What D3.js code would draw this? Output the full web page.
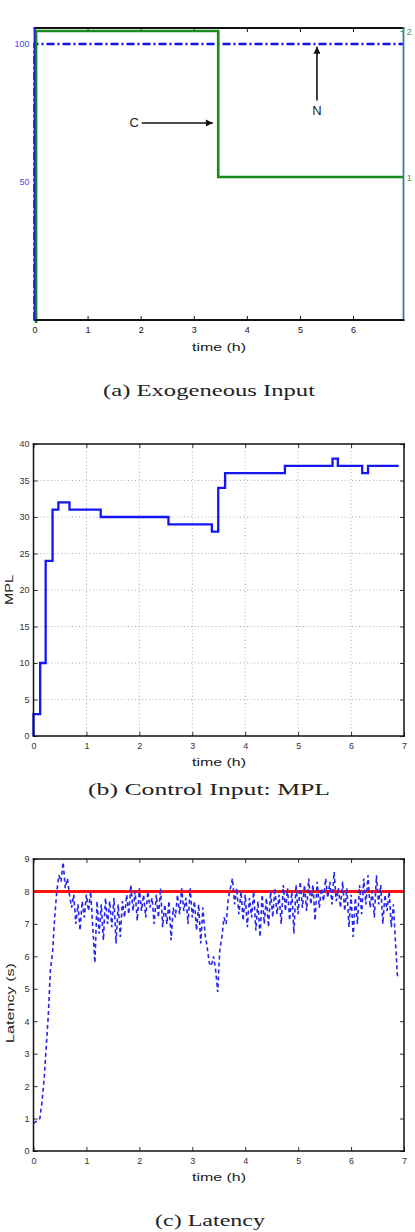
<!DOCTYPE html>
<html>
<head>
<meta charset="utf-8">
<script src="https://cdn.jsdelivr.net/npm/d3@7"></script>
<style>
  body { margin: 0; background: #fff; }
  text { font-family: "Liberation Sans", Arial, sans-serif; }
  .cap { font-family: "Liberation Serif", "Times New Roman", serif; }
</style>
</head>
<body>
<svg id="fig" width="415" height="1232"></svg>
<script>
// (a) exogeneous input: concurrency C (right axis) and clients N (left axis)
const conTimes = [0.03, 0.03, 3.46, 3.46, 6.95];
const conValues = [0, 2, 2, 1, 1];
const nTimes = [0, 0, 6.95];
const nValues = [0, 100, 100];
const leftTicksA = [50, 100];
const rightTicksA = [1, 2];
const xTicksA = [0, 1, 2, 3, 4, 5, 6];
const annoLabels = ["C", "N"];
const annoText = [[1.88, 71.4], [5.32, 76]];
const annoFrom = [[2.02, 71.4], [5.32, 79.5]];
const annoTo = [[3.36, 71.4], [5.32, 99]];

// (b) MPL, step series
const mplTimes = [0, 0, 0.126, 0.23, 0.36, 0.47, 0.68, 1.27, 2.55, 3.37, 3.49, 3.62, 4.75, 5.65, 5.75, 6.21, 6.32, 6.90];
const mplValues = [0, 3, 10, 24, 31, 32, 31, 30, 29, 28, 34, 36, 37, 38, 37, 36, 37, 37];
const xTicks = [0, 1, 2, 3, 4, 5, 6, 7];
const mplTicks = [0, 5, 10, 15, 20, 25, 30, 35, 40];

// (c) latency, sampled every 0.04 h
const latencyStep = 0.04;
const latency = [
  0.85, 0.9, 0.95, 1.0, 1.5, 2.2, 3.2, 4.2, 5.6, 6.1, 7.2, 8.0, 8.5, 8.3, 8.9, 8.1, 8.4, 7.9, 7.5, 7.9,
  7.0, 7.6, 6.8, 7.7, 7.2, 7.9, 7.4, 8.0, 6.9, 5.8, 7.7, 6.7, 7.6, 6.5, 7.8, 7.0, 7.7, 6.9, 7.8, 6.4,
  7.6, 6.6, 7.7, 7.2, 7.9, 7.3, 8.2, 7.4, 8.0, 7.1, 8.1, 7.4, 7.9, 7.2, 8.0, 7.5, 7.8, 7.0, 7.9, 7.2,
  8.1, 6.9, 7.6, 7.0, 7.7, 6.5, 7.5, 7.2, 7.9, 7.3, 8.1, 7.4, 7.8, 7.0, 8.1, 7.2, 7.7, 6.8, 7.6, 6.4,
  7.5, 6.7, 6.3, 5.8, 5.7, 6.0, 5.6, 4.9, 6.2, 6.6, 7.2, 7.0, 7.8, 8.1, 8.4, 7.6, 8.1, 7.3, 8.0, 7.1,
  7.9, 6.9, 7.8, 7.2, 8.0, 6.8, 7.7, 6.6, 7.9, 7.0, 7.8, 6.9, 8.0, 7.2, 8.1, 7.3, 7.9, 7.0, 8.2, 7.4,
  8.1, 7.1, 8.0, 6.7, 8.2, 7.3, 8.3, 7.5, 8.2, 7.4, 8.4, 7.6, 8.2, 7.1, 8.3, 7.5, 8.1, 7.7, 8.4, 7.8,
  8.3, 7.6, 8.6, 7.7, 8.1, 7.5, 8.3, 7.4, 8.1, 6.9, 7.9, 6.6, 7.8, 7.0, 8.2, 7.3, 8.4, 7.6, 8.5, 7.5,
  8.0, 7.2, 8.5, 7.6, 8.2, 7.0, 7.9, 7.4, 8.0, 6.9, 7.6, 6.4, 5.3
];
const latencyTarget = 8;
const latTicks = [0, 1, 2, 3, 4, 5, 6, 7, 8, 9];

const svg = d3.select("#fig");
const fmt = d3.format("d");

// matlab-like tick styling
function styleAxis(sel, color, size) {
  sel.select(".domain").remove();
  sel.selectAll(".tick line").attr("stroke", color).attr("stroke-width", 1);
  sel.selectAll(".tick text").attr("fill", color).attr("font-size", size)
    .attr("font-family", "Liberation Sans, Arial, sans-serif");
}

function frame(x0, y0, x1, y1, colors, w) {
  const sides = [[x0, y0, x1, y0], [x1, y0, x1, y1], [x0, y1, x1, y1], [x0, y0, x0, y1]];
  sides.forEach((s, i) => {
    svg.append("line").attr("x1", s[0]).attr("y1", s[1]).attr("x2", s[2]).attr("y2", s[3])
      .attr("stroke", colors[i]).attr("stroke-width", w).attr("stroke-linecap", "square");
  });
}

function label(x, y, txt, len, size, rot, cls) {
  const t = svg.append("text")
    .attr("text-anchor", "middle").attr("font-size", size).attr("fill", "#222")
    .attr("textLength", len).attr("lengthAdjust", "spacingAndGlyphs")
    .text(txt);
  if (cls) t.attr("class", cls);
  if (rot) t.attr("transform", `translate(${x},${y}) rotate(-90)`);
  else t.attr("x", x).attr("y", y);
  return t;
}

// ---------- (a) ----------
{
  const L = 34.5, R = 403.5, T = 28, B = 320;
  const x = d3.scaleLinear().domain([0, 6.95]).range([L, R]);
  const yL = d3.scaleLinear().domain([0, 105.8]).range([B, T]);
  const yR = d3.scaleLinear().domain([0.0205, 2.0205]).range([B, T]);

  svg.append("g").attr("transform", `translate(0,${B})`)
    .call(d3.axisBottom(x).tickValues(xTicksA).tickFormat(fmt).tickSize(-4).tickPadding(7))
    .call(s => styleAxis(s, "#111", 9));
  svg.append("g").attr("transform", `translate(0,${T})`)
    .call(d3.axisTop(x).tickValues(xTicksA).tickSize(-4).tickFormat(""))
    .call(s => styleAxis(s, "#111", 9));
  svg.append("g").attr("transform", `translate(${L},0)`)
    .call(d3.axisLeft(yL).tickValues(leftTicksA).tickFormat(fmt).tickSize(-3).tickPadding(5))
    .call(s => styleAxis(s, "#4a4af0", 9));
  svg.append("g").attr("transform", `translate(${R},0)`)
    .call(d3.axisRight(yR).tickValues(rightTicksA).tickFormat(fmt).tickSize(-3).tickPadding(3))
    .call(s => styleAxis(s, "#3fa83f", 9.5));

  svg.append("path")
    .datum(d3.zip(nTimes, nValues))
    .attr("fill", "none").attr("stroke", "#1010f0").attr("stroke-width", 2.6)
    .attr("stroke-dasharray", "8,3,2,3")
    .attr("d", d3.line().x(d => x(d[0])).y(d => yL(d[1])));

  svg.append("path")
    .datum(d3.zip(conTimes, conValues))
    .attr("fill", "none").attr("stroke", "#1a8a1a").attr("stroke-width", 2.6)
    .attr("d", d3.line().x(d => x(d[0])).y(d => yR(d[1])));

  frame(L, T, R, B, ["#111", "#3a7d96", "#111", "#2020e0"], 1.8);

  svg.append("defs").append("marker")
    .attr("id", "ah").attr("viewBox", "0 0 10 10").attr("refX", 10).attr("refY", 5)
    .attr("markerWidth", 8).attr("markerHeight", 7).attr("markerUnits", "userSpaceOnUse")
    .attr("orient", "auto")
    .append("path").attr("d", "M0,0 L10,5 L0,10 Z").attr("fill", "#111");

  annoLabels.forEach((lab, i) => {
    svg.append("line")
      .attr("x1", x(annoFrom[i][0])).attr("y1", yL(annoFrom[i][1]))
      .attr("x2", x(annoTo[i][0])).attr("y2", yL(annoTo[i][1]))
      .attr("stroke", "#111").attr("stroke-width", 1.6).attr("marker-end", "url(#ah)");
    svg.append("text")
      .attr("x", x(annoText[i][0])).attr("y", yL(annoText[i][1]) + 4.5)
      .attr("text-anchor", "middle").attr("font-size", 13).attr("fill", "#222")
      .text(lab);
  });

  label(219, 351, "time (h)", 54, 11.5);
  label(209, 396, "(a)  Exogeneous  Input", 212, 17, false, "cap");
}

// ---------- (b) ----------
{
  const L = 33.5, R = 404, T = 444, B = 736;
  const x = d3.scaleLinear().domain([0, 7]).range([L, R]);
  const y = d3.scaleLinear().domain([0, 40]).range([B, T]);

  const grid = svg.append("g").attr("stroke", "#9a9a9a").attr("stroke-width", 0.8)
    .attr("stroke-dasharray", "1,2.5");
  grid.selectAll(".gx").data(xTicks.slice(1, -1)).join("line")
    .attr("x1", d => x(d)).attr("x2", d => x(d)).attr("y1", T).attr("y2", B);
  grid.selectAll(".gy").data(mplTicks.slice(1, -1)).join("line")
    .attr("x1", L).attr("x2", R).attr("y1", d => y(d)).attr("y2", d => y(d));

  svg.append("g").attr("transform", `translate(0,${B})`)
    .call(d3.axisBottom(x).tickValues(xTicks).tickFormat(fmt).tickSize(-4).tickPadding(7))
    .call(s => styleAxis(s, "#333", 9));
  svg.append("g").attr("transform", `translate(0,${T})`)
    .call(d3.axisTop(x).tickValues(xTicks).tickSize(-4).tickFormat(""))
    .call(s => styleAxis(s, "#333", 9));
  svg.append("g").attr("transform", `translate(${L},0)`)
    .call(d3.axisLeft(y).tickValues(mplTicks).tickFormat(fmt).tickSize(-4).tickPadding(4))
    .call(s => styleAxis(s, "#333", 9));
  svg.append("g").attr("transform", `translate(${R},0)`)
    .call(d3.axisRight(y).tickValues(mplTicks).tickSize(-4).tickFormat(""))
    .call(s => styleAxis(s, "#333", 9));

  svg.append("path")
    .datum(d3.zip(mplTimes, mplValues))
    .attr("fill", "none").attr("stroke", "#1515f5").attr("stroke-width", 2.3)
    .attr("d", d3.line().curve(d3.curveStepAfter).x(d => x(d[0])).y(d => y(d[1])));

  frame(L, T, R, B, ["#111", "#111", "#111", "#111"], 1.5);

  label(219, 766, "time (h)", 54, 11.5);
  label(13, 590, "MPL", 30, 11.5, true);
  label(209, 795, "(b)  Control  Input:  MPL", 242, 17, false, "cap");
}

// ---------- (c) ----------
{
  const L = 33.5, R = 404, T = 859, B = 1151;
  const x = d3.scaleLinear().domain([0, 7]).range([L, R]);
  const y = d3.scaleLinear().domain([0, 9]).range([B, T]);

  svg.append("g").attr("transform", `translate(0,${B})`)
    .call(d3.axisBottom(x).tickValues(xTicks).tickFormat(fmt).tickSize(-4).tickPadding(7))
    .call(s => styleAxis(s, "#333", 9));
  svg.append("g").attr("transform", `translate(0,${T})`)
    .call(d3.axisTop(x).tickValues(xTicks).tickSize(-4).tickFormat(""))
    .call(s => styleAxis(s, "#333", 9));
  svg.append("g").attr("transform", `translate(${L},0)`)
    .call(d3.axisLeft(y).tickValues(latTicks).tickFormat(fmt).tickSize(-4).tickPadding(4))
    .call(s => styleAxis(s, "#333", 9));
  svg.append("g").attr("transform", `translate(${R},0)`)
    .call(d3.axisRight(y).tickValues(latTicks).tickSize(-4).tickFormat(""))
    .call(s => styleAxis(s, "#333", 9));

  svg.append("line")
    .attr("x1", L).attr("x2", R).attr("y1", y(latencyTarget)).attr("y2", y(latencyTarget))
    .attr("stroke", "#ff1010").attr("stroke-width", 3);

  svg.append("path")
    .datum(latency)
    .attr("fill", "none").attr("stroke", "#2525ee").attr("stroke-width", 1.6)
    .attr("stroke-dasharray", "4,3")
    .attr("d", d3.line().x((d, i) => x(i * latencyStep)).y(d => y(d)));

  frame(L, T, R, B, ["#111", "#111", "#111", "#111"], 1.5);

  label(219, 1181, "time (h)", 54, 11.5);
  label(14, 1003, "Latency (s)", 80, 11.5, true);
  label(210, 1226, "(c)  Latency", 110, 17, false, "cap");
}
</script>
</body>
</html>
